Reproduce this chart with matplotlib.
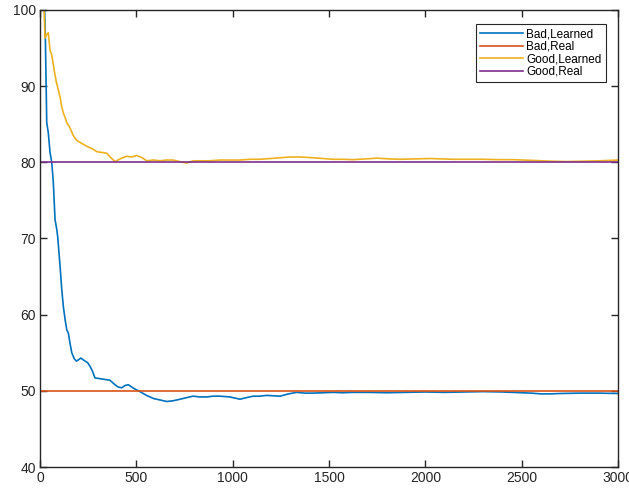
import matplotlib
matplotlib.use('Agg')
import matplotlib.pyplot as plt
import numpy as np

# iterations / values
bad_it = [0, 20, 28, 35, 43, 52, 61, 69, 78, 87, 92, 104, 113, 121, 130, 139,
          147, 156, 165, 178, 190, 212, 234, 247, 260, 272, 285, 310, 335, 363,
          389, 406, 424, 441, 458, 488, 519, 553, 588, 623, 658, 692, 727, 760,
          794, 830, 865, 900, 934, 985, 1038, 1070, 1107, 1140, 1177, 1210, 1246,
          1290, 1332, 1375, 1417, 1470, 1521, 1570, 1624, 1700, 1800, 1900, 2000,
          2100, 2200, 2300, 2400, 2500, 2550, 2600, 2650, 2700, 2800, 2900, 3000]
bad_learned = [115, 104, 96, 85.2, 83.9, 81.3, 80.0, 77.4, 72.5, 71.2, 70.2, 66.4,
               63.3, 61.1, 59.4, 58.0, 57.6, 56.2, 55.0, 54.2, 53.9, 54.3, 53.9,
               53.7, 53.2, 52.6, 51.7, 51.6, 51.5, 51.4, 50.8, 50.5, 50.4, 50.7,
               50.8, 50.3, 49.9, 49.4, 49.0, 48.8, 48.6, 48.7, 48.9, 49.1, 49.3,
               49.2, 49.2, 49.3, 49.3, 49.2, 48.9, 49.1, 49.3, 49.3, 49.4, 49.35,
               49.3, 49.6, 49.8, 49.7, 49.7, 49.75, 49.8, 49.75, 49.8, 49.8, 49.75,
               49.8, 49.85, 49.8, 49.85, 49.9, 49.85, 49.75, 49.7, 49.6, 49.6,
               49.65, 49.7, 49.7, 49.65]

good_it = [0, 20, 26, 35, 43, 52, 60, 68, 77, 86, 95, 104, 112, 121, 130, 139,
           147, 156, 173, 190, 215, 243, 270, 295, 320, 346, 368, 389, 420, 450,
           475, 502, 530, 554, 590, 623, 655, 690, 725, 761, 795, 830, 880, 935,
           985, 1038, 1090, 1142, 1195, 1246, 1300, 1349, 1417, 1470, 1521, 1570,
           1624, 1690, 1748, 1810, 1868, 1950, 2024, 2080, 2143, 2220, 2299, 2380,
           2455, 2510, 2559, 2650, 2735, 2820, 2906, 3000]
good_learned = [104, 101, 96.3, 96.8, 97.0, 94.7, 94.2, 93.0, 91.6, 90.4, 89.5,
                88.6, 87.4, 86.5, 85.9, 85.2, 84.9, 84.5, 83.5, 82.9, 82.5, 82.1,
                81.8, 81.4, 81.3, 81.2, 80.6, 80.1, 80.5, 80.8, 80.7, 80.9, 80.6,
                80.2, 80.3, 80.2, 80.3, 80.3, 80.1, 79.9, 80.2, 80.2, 80.2, 80.3,
                80.3, 80.3, 80.4, 80.4, 80.5, 80.6, 80.7, 80.7, 80.6, 80.5, 80.4,
                80.4, 80.35, 80.45, 80.55, 80.45, 80.4, 80.45, 80.5, 80.45, 80.4,
                80.4, 80.4, 80.35, 80.35, 80.3, 80.25, 80.15, 80.1, 80.15, 80.2, 80.3]

bad_real = 50
good_real = 80
x_max = 3000

plt.rcParams['font.family'] = ['Liberation Sans', 'DejaVu Sans']

fig = plt.figure(figsize=(6.29, 4.92), dpi=100)
ax = fig.add_axes([0.0636, 0.0508, 0.9189, 0.9289])

ax.plot(bad_it, bad_learned, color='#0072BD', lw=1.2, label='Bad,Learned')
ax.plot([0, x_max], [bad_real, bad_real], color='#D95319', lw=1.2, label='Bad,Real')
ax.plot(good_it, good_learned, color='#EDB120', lw=1.2, label='Good,Learned')
ax.plot([0, x_max], [good_real, good_real], color='#7E2F8E', lw=1.2, label='Good,Real')

ax.set_xlim(0, x_max)
ax.set_ylim(40, 100)
ax.set_xticks(np.arange(0, 3001, 500))
ax.set_yticks(np.arange(40, 101, 10))
ax.tick_params(direction='in', top=True, right=True, length=5, width=1,
               labelsize=10, colors='#262626', pad=3)
for s in ax.spines.values():
    s.set_color('#262626')
    s.set_linewidth(1)

leg = ax.legend(loc='upper right', bbox_to_anchor=(0.9785, 0.9695), fontsize=8.5,
                fancybox=False, framealpha=1, edgecolor='#262626',
                handlelength=3.6, handletextpad=0.3, borderpad=0.35,
                labelspacing=0.05, borderaxespad=0)
leg.get_frame().set_linewidth(0.8)

fig.savefig('out.png', dpi=100)
